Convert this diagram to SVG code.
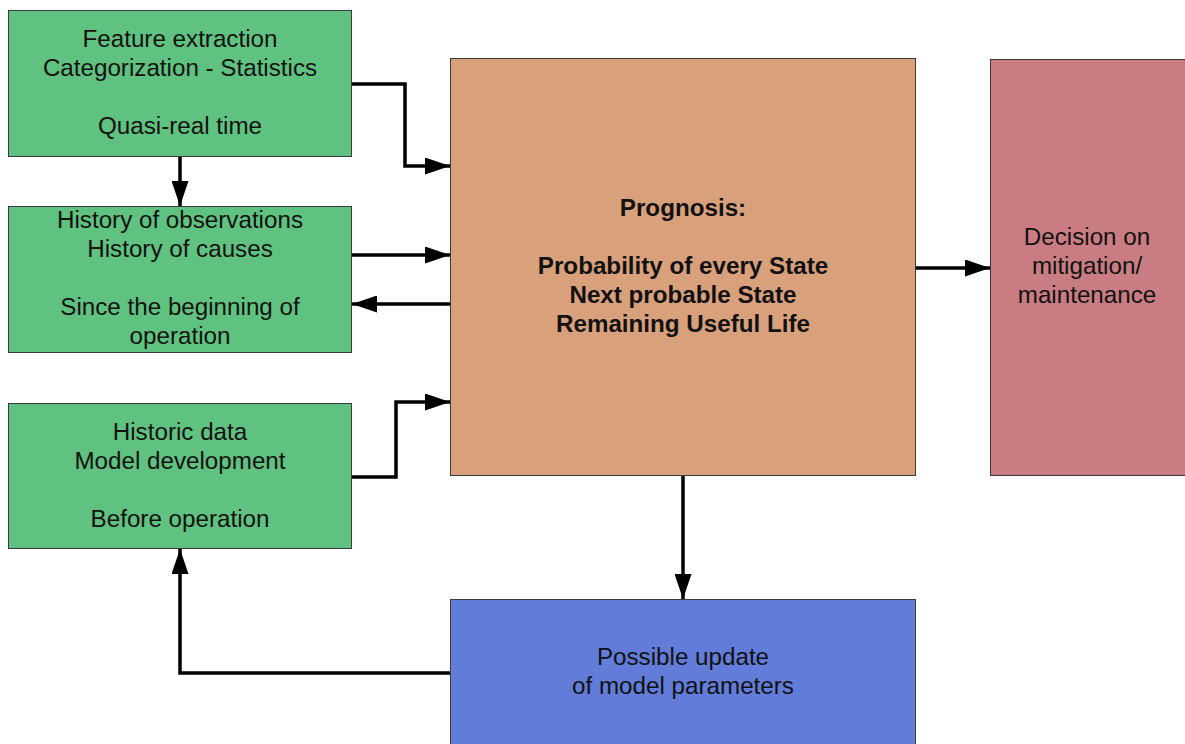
<svg xmlns="http://www.w3.org/2000/svg" width="1185" height="744" viewBox="0 0 1185 744">
<defs>
<marker id="ah" markerWidth="25" markerHeight="17" refX="25" refY="8.5" orient="auto" markerUnits="userSpaceOnUse">
<path d="M0,0 L25,8.5 L0,17 Z" fill="#000"/>
</marker>
<style>
.box{stroke:#3a3a3a;stroke-width:1}
.g{fill:#60C281}
.o{fill:#D9A07C}
.r{fill:#C97D82}
.b{fill:#627CD9}
text{font-family:"Liberation Sans",Arial,sans-serif;font-size:24.2px;fill:#111;text-anchor:middle}
.bold{font-weight:bold}
.c{fill:none;stroke:#000;stroke-width:3.5;marker-end:url(#ah)}
</style>
</defs>
<rect width="1185" height="744" fill="#fff"/>
<g id="n1"><rect class="box g" x="8.5" y="10.5" width="343" height="146"/>
<text x="180" y="47">Feature extraction</text>
<text x="180" y="76">Categorization - Statistics</text>
<text x="180" y="134">Quasi-real time</text></g>
<g id="n2"><rect class="box g" x="8.5" y="206.5" width="343" height="146"/>
<text x="180" y="228">History of observations</text>
<text x="180" y="257">History of causes</text>
<text x="180" y="315">Since the beginning of</text>
<text x="180" y="344">operation</text></g>
<g id="n3"><rect class="box g" x="8.5" y="403.5" width="343" height="145"/>
<text x="180" y="440">Historic data</text>
<text x="180" y="469">Model development</text>
<text x="180" y="527">Before operation</text></g>
<g id="n4"><rect class="box o" x="450.5" y="58.5" width="465" height="417"/>
<text class="bold" x="683" y="216">Prognosis:</text>
<text class="bold" x="683" y="274">Probability of every State</text>
<text class="bold" x="683" y="303">Next probable State</text>
<text class="bold" x="683" y="332">Remaining Useful Life</text></g>
<g id="n5"><rect class="box r" x="990.5" y="59.5" width="200" height="416"/>
<text x="1087" y="245">Decision on</text>
<text x="1087" y="274">mitigation/</text>
<text x="1087" y="303">maintenance</text></g>
<g id="n6"><rect class="box b" x="450.5" y="599.5" width="465" height="150"/>
<text x="683" y="665">Possible update</text>
<text x="683" y="694">of model parameters</text></g>
<g id="connectors">
<path class="c" d="M352,84 H405 V166 H450"/>
<path class="c" d="M352,255 H450"/>
<path class="c" d="M450,304 H352"/>
<path class="c" d="M352,477 H396 V402 H450"/>
<path class="c" d="M180,157 V206"/>
<path class="c" d="M916,268 H990"/>
<path class="c" d="M683,476 V599"/>
<path class="c" d="M450,673 H180 V549"/>
</g>
</svg>
